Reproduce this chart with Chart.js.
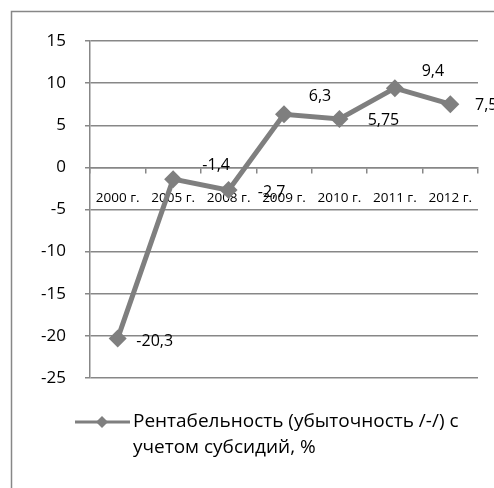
<!DOCTYPE html>
<html>
<head>
<meta charset="utf-8">
<script src="https://cdn.jsdelivr.net/npm/chart.js@4"></script>
<style>
  html, body { margin: 0; padding: 0; background: #fff; overflow: hidden; }
  #wrap { width: 494px; height: 488px; position: relative; }
</style>
</head>
<body>
<div id="wrap"><canvas id="profit-chart" width="494" height="488"></canvas></div>
<script>
// data
var years = ['2000 г.', '2005 г.', '2008 г.', '2009 г.', '2010 г.', '2011 г.', '2012 г.'];
var profitability = [-20.3, -1.4, -2.7, 6.3, 5.75, 9.4, 7.5];
var valueLabels = ['-20,3', '-1,4', '-2,7', '6,3', '5,75', '9,4', '7,5'];
var yTicks = [15, 10, 5, 0, -5, -10, -15, -20, -25];
var seriesName = ['Рентабельность (убыточность /-/) с', 'учетом субсидий, %'];

// where each data label sits relative to its point (px)
var labelShift = [[37, 3], [43, -14], [43, 2], [36, -18], [44, 2], [38, -17], [36, 1]];

var grey = '#7f7f7f';
var gridGrey = '#878787';
var fontName = "'Open Sans', 'Noto Sans', sans-serif";

var framePlugin = {
    id: 'frame',
    beforeDraw: function (chart) {
        var ctx = chart.ctx;
        ctx.save();
        ctx.fillStyle = '#fff';
        ctx.fillRect(0, 0, chart.width, chart.height);
        ctx.strokeStyle = gridGrey;
        ctx.lineWidth = 1.5;
        ctx.strokeRect(11.5, 11.5, 700, 700);
        ctx.restore();
    }
};

var labelPlugin = {
    id: 'valueLabels',
    afterDatasetsDraw: function (chart) {
        var ctx = chart.ctx;
        var meta = chart.getDatasetMeta(0);
        ctx.save();
        ctx.fillStyle = '#000';
        ctx.font = '16px ' + fontName;
        ctx.textAlign = 'center';
        ctx.textBaseline = 'middle';
        meta.data.forEach(function (pt, i) {
            ctx.fillText(valueLabels[i], pt.x + labelShift[i][0], pt.y + labelShift[i][1]);
        });
        ctx.restore();
    }
};

var legendPlugin = {
    id: 'bottomLegend',
    afterDraw: function (chart) {
        var ctx = chart.ctx;
        var y = 422;
        ctx.save();
        ctx.strokeStyle = grey;
        ctx.lineWidth = 3;
        ctx.beginPath();
        ctx.moveTo(75, y);
        ctx.lineTo(130, y);
        ctx.stroke();
        ctx.fillStyle = grey;
        ctx.beginPath();
        ctx.moveTo(102, y - 6);
        ctx.lineTo(108, y);
        ctx.lineTo(102, y + 6);
        ctx.lineTo(96, y);
        ctx.closePath();
        ctx.fill();
        ctx.fillStyle = '#000';
        ctx.font = '19px ' + fontName;
        ctx.textAlign = 'left';
        ctx.textBaseline = 'middle';
        ctx.fillText(seriesName[0], 133, y);
        ctx.fillText(seriesName[1], 133, y + 26);
        ctx.restore();
    }
};

var ctx = document.getElementById('profit-chart').getContext('2d');

new Chart(ctx, {
    type: 'line',
    data: {
        labels: years,
        datasets: [
            {
                label: seriesName.join(' '),
                data: profitability,
                borderColor: grey,
                backgroundColor: grey,
                borderWidth: 5,
                pointStyle: 'rectRot',
                pointRadius: 9,
                pointHoverRadius: 9,
                pointBackgroundColor: grey,
                pointBorderWidth: 0,
                tension: 0
            }
        ]
    },
    options: {
        responsive: false,
        animation: false,
        events: [],
        layout: {
            padding: { left: 0, right: 16, top: 41, bottom: 110 }
        },
        plugins: {
            legend: { display: false },
            tooltip: { enabled: false }
        },
        scales: {
            x: {
                position: { y: 0 },
                offset: true,
                grid: {
                    display: true,
                    offset: true,
                    drawOnChartArea: false,
                    color: gridGrey,
                    lineWidth: 1.5,
                    tickLength: 5
                },
                border: { display: true, color: gridGrey, width: 1.5 },
                ticks: {
                    color: '#000',
                    font: { family: fontName, size: 13.5 },
                    padding: 18,
                    maxRotation: 0,
                    autoSkip: false
                }
            },
            y: {
                min: -25,
                max: 15,
                afterFit: function (scale) { scale.width = 90; },
                afterBuildTicks: function (scale) {
                    scale.ticks = yTicks.map(function (v) { return { value: v }; });
                },
                grid: {
                    color: gridGrey,
                    lineWidth: 1.5,
                    tickLength: 5
                },
                border: { display: true, color: gridGrey, width: 1.5 },
                ticks: {
                    color: '#000',
                    font: { family: fontName, size: 17 },
                    padding: 19
                }
            }
        }
    },
    plugins: [framePlugin, labelPlugin, legendPlugin]
});
</script>
</body>
</html>
